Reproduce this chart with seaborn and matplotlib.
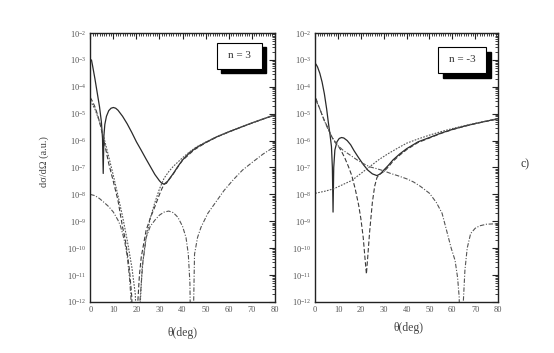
import numpy as np
import pandas as pd
import matplotlib
matplotlib.use("Agg")
import matplotlib.pyplot as plt
import matplotlib.ticker as mticker
from matplotlib.patches import Rectangle
import seaborn as sns

# ---- panel n = 3 ----
th_l_solid = [0.5, 1, 2, 3, 4, 4.8, 5.3, 5.6, 5.9, 6.3, 7, 8, 9, 10, 11, 12, 14, 16, 18, 20,
              22, 24, 26, 28, 30, 31, 32, 33, 34, 36, 38, 40, 43, 46, 50, 55, 60, 65, 70, 75, 80]
y_l_solid = [1.0e-3, 6e-4, 2e-4, 6e-5, 1.8e-5, 5e-6, 1.2e-6, 6e-8, 1.5e-6, 4e-6, 8e-6, 1.3e-5,
             1.6e-5, 1.7e-5, 1.6e-5, 1.35e-5, 8e-6, 4.2e-6, 2e-6, 9e-7, 4.5e-7, 2.2e-7, 1.1e-7,
             5.5e-8, 3.2e-8, 2.6e-8, 2.4e-8, 2.6e-8, 3.5e-8, 6e-8, 1.1e-7, 1.9e-7, 3.5e-7, 5.5e-7,
             8.5e-7, 1.4e-6, 2.1e-6, 3.1e-6, 4.5e-6, 6.4e-6, 9e-6]

th_l_dash = [0, 1, 2, 3, 4, 5, 6, 7, 8, 10, 12, 14, 15, 16, 17, 18, 18.4, 20, 20.6, 21.3, 22.1,
             24.2, 26, 28, 30, 31, 32, 34, 36, 38, 40, 45, 50, 55, 60, 65, 70, 75, 80]
y_l_dash = [4e-5, 2.8e-5, 1.8e-5, 1e-5, 5e-6, 2.2e-6, 9e-7, 3.6e-7, 1.4e-7, 3e-8, 6e-9, 6e-10,
            2.5e-10, 7e-11, 1.5e-11, 1.5e-12, 1e-14, 1e-14, 1e-12, 1e-11, 4.7e-11, 4.6e-10,
            1.3e-9, 3.5e-9, 1e-8, 1.6e-8, 2.4e-8, 3.4e-8, 5.8e-8, 1.05e-7, 1.85e-7, 4.5e-7,
            8.3e-7, 1.38e-6, 2.08e-6, 3.05e-6, 4.45e-6, 6.35e-6, 8.9e-6]

th_l_dot = [0, 2, 4, 6, 8, 10, 12, 14, 16, 18, 19.5, 20.5, 21, 21.7, 22.5, 24, 26, 28, 30, 32,
            34, 36, 38, 40, 43, 46, 50, 55, 60, 65, 70, 75, 80]
y_l_dot = [3e-5, 1.5e-5, 5e-6, 1.2e-6, 2.5e-7, 5e-8, 9e-9, 1.5e-9, 2e-10, 2e-11, 2e-12, 1e-14,
           1e-14, 1e-12, 2e-11, 2e-10, 1.3e-9, 5e-9, 1.6e-8, 4e-8, 7e-8, 1.1e-7, 1.6e-7, 2.3e-7,
           3.8e-7, 5.8e-7, 8.8e-7, 1.43e-6, 2.13e-6, 3.13e-6, 4.53e-6, 6.43e-6, 9.05e-6]

th_l_dd = [0, 2, 4, 6, 8, 10, 12, 13, 14, 15, 16, 17, 17.6, 18, 20.6, 21.5, 22.8, 24.3, 26, 28,
           30, 32, 34, 36, 38, 40, 41.5, 42.5, 43.2, 43.6, 44.4, 45.2, 46.5, 48, 51, 54, 58, 62,
           66, 70, 75, 80]
y_l_dd = [1e-8, 9e-9, 7e-9, 5e-9, 3.5e-9, 2.2e-9, 1.1e-9, 7e-10, 3.5e-10, 1.6e-10, 5e-11, 8e-12,
          1.5e-12, 1e-14, 1e-14, 1e-12, 3e-11, 2.6e-10, 6.5e-10, 1.1e-9, 1.7e-9, 2.2e-9, 2.4e-9,
          2.1e-9, 1.4e-9, 6.5e-10, 2.5e-10, 6e-11, 5e-12, 1e-14, 1e-14, 6e-11, 2.5e-10, 6e-10,
          2e-9, 4.6e-9, 1.4e-8, 3.5e-8, 8e-8, 1.5e-7, 3.2e-7, 6e-7]

# ---- panel n = -3 ----
th_r_solid = [0.3, 1, 2, 3, 4, 5, 5.7, 6.5, 7.1, 7.5, 7.8, 8.1, 8.6, 9.5, 10.5, 11.5, 12.5, 14,
              15.5, 17, 19, 21, 23, 25, 27, 28.5, 30, 32, 34, 37, 40, 45, 50, 55, 60, 65, 70, 75, 80]
y_r_solid = [7e-4, 5.5e-4, 3.2e-4, 1.5e-4, 5.5e-5, 1.5e-5, 5e-6, 1.6e-6, 6e-7, 1e-7, 2.2e-9, 1e-7,
             4.5e-7, 9e-7, 1.2e-6, 1.3e-6, 1.25e-6, 1e-6, 7e-7, 4.2e-7, 2.3e-7, 1.3e-7, 8e-8,
             5.8e-8, 5e-8, 5.8e-8, 8e-8, 1.2e-7, 1.9e-7, 3.2e-7, 5e-7, 9e-7, 1.3e-6, 1.9e-6,
             2.6e-6, 3.4e-6, 4.3e-6, 5.3e-6, 6.5e-6]

th_r_dash = [0.3, 2, 4, 5.7, 7, 8.5, 10, 11.5, 13, 14.5, 16, 17.5, 19, 20, 21, 21.8, 22.4, 23,
             23.8, 25, 26, 27, 28, 30, 32, 34, 37, 40, 45, 50, 55, 60, 65, 70, 75, 80]
y_r_dash = [3.7e-5, 1.5e-5, 5.5e-6, 2.8e-6, 1.5e-6, 9e-7, 6.5e-7, 4e-7, 2.2e-7, 1.1e-7, 5e-8,
            1.6e-8, 4e-9, 1.2e-9, 2.5e-10, 4e-11, 1.1e-11, 5e-11, 4e-10, 5e-9, 2e-8, 4.2e-8,
            5.5e-8, 7e-8, 1.05e-7, 1.7e-7, 2.9e-7, 4.6e-7, 8.5e-7, 1.25e-6, 1.85e-6, 2.55e-6,
            3.35e-6, 4.25e-6, 5.25e-6, 6.4e-6]

th_r_dot = [0, 4, 8, 12, 16, 20, 24, 28, 32, 36, 40, 45, 50, 55, 60, 65, 70, 75, 80]
y_r_dot = [1.1e-8, 1.3e-8, 1.6e-8, 2.3e-8, 3.3e-8, 6e-8, 1.1e-7, 2e-7, 3.3e-7, 5.2e-7, 8e-7,
           1.15e-6, 1.6e-6, 2.15e-6, 2.8e-6, 3.55e-6, 4.4e-6, 5.4e-6, 6.6e-6]

th_r_dd = [0.3, 2, 4, 6, 8, 10, 12, 15, 18, 21, 24, 27, 30, 33, 36, 40, 43, 46, 50, 53, 55.5,
           57.5, 59.5, 61.2, 62.3, 63, 63.4, 64.4, 64.8, 65.5, 66.5, 68, 70, 72, 75, 78, 80]
y_r_dd = [3.2e-5, 1.5e-5, 5.5e-6, 2.2e-6, 1.1e-6, 6.5e-7, 4.5e-7, 3e-7, 2e-7, 1.4e-7, 1.05e-7,
          9e-8, 7.5e-8, 6e-8, 5e-8, 3.8e-8, 2.9e-8, 2e-8, 1.1e-8, 5e-9, 2e-9, 4.5e-10, 1e-10,
          3.5e-11, 8e-12, 1.5e-12, 1e-14, 1e-14, 1e-12, 1.5e-11, 1e-10, 3.5e-10, 5.5e-10,
          6.8e-10, 7.8e-10, 8e-10, 8e-10]

x_ticks = [0, 10, 20, 30, 40, 50, 60, 70, 80]
panel_labels = ["n = 3", "n = -3"]

sns.set_style("white")
plt.rcParams['font.family'] = ['Liberation Serif', 'DejaVu Serif']
plt.rcParams['mathtext.fontset'] = 'dejavuserif'

fig = plt.figure(figsize=(5.54, 3.53), dpi=100)
ax1 = fig.add_axes([0.163, 0.1445, 0.333, 0.762])
ax2 = fig.add_axes([0.569, 0.1445, 0.330, 0.762])

styles = {
    "solid": dict(linestyle="-", linewidth=0.9, color="#2a2a2a"),
    "dash": dict(linestyle=(0, (4, 2)), linewidth=0.8, color="#3a3a3a"),
    "dot": dict(linestyle=(0, (1.5, 1.2)), linewidth=0.8, color="#555555"),
    "dd": dict(linestyle=(0, (4, 1.5, 1, 1.5)), linewidth=0.8, color="#555555"),
}

curves = [
    (ax1, th_l_solid, y_l_solid, "solid"), (ax1, th_l_dash, y_l_dash, "dash"),
    (ax1, th_l_dot, y_l_dot, "dot"), (ax1, th_l_dd, y_l_dd, "dd"),
    (ax2, th_r_solid, y_r_solid, "solid"), (ax2, th_r_dash, y_r_dash, "dash"),
    (ax2, th_r_dot, y_r_dot, "dot"), (ax2, th_r_dd, y_r_dd, "dd"),
]
for ax, th, yv, kind in curves:
    df = pd.DataFrame({"theta": th, "xs": yv})
    sns.lineplot(data=df, x="theta", y="xs", ax=ax, estimator=None, sort=False, **styles[kind])

for ax, lab in zip([ax1, ax2], panel_labels):
    ax.set_yscale("log")
    ax.set_ylim(1e-12, 1e-2)
    ax.set_xlim(0, 80)
    ax.set_xticks(x_ticks)
    ax.set_xticklabels([str(t) for t in x_ticks])
    ax.xaxis.set_minor_locator(mticker.MultipleLocator(1))
    ax.yaxis.set_major_locator(mticker.LogLocator(base=10, numticks=15))
    ax.yaxis.set_minor_locator(mticker.LogLocator(base=10, subs=np.arange(2, 10), numticks=15))
    ax.yaxis.set_minor_formatter(mticker.NullFormatter())
    ax.tick_params(which="both", direction="in", top=True, right=True, colors="#222222",
                   labelcolor="#555555", labelsize=6, pad=3)
    ax.tick_params(which="major", length=4, width=0.8)
    ax.tick_params(which="minor", length=2, width=0.6)
    for s in ax.spines.values():
        s.set_linewidth(1.0)
        s.set_color("#222222")
    ax.set_xlabel("")
    ax.set_ylabel("")

    # label box with shadow
    if ax is ax1:
        x0, y0, w, h, dx, dy = 0.686, 0.867, 0.244, 0.097, 0.024, 0.017
    else:
        x0, y0, w, h, dx, dy = 0.672, 0.852, 0.262, 0.097, 0.027, 0.019
    ax.add_patch(Rectangle((x0 + dx, y0 - dy), w, h, transform=ax.transAxes,
                           facecolor="black", edgecolor="black", zorder=5))
    ax.add_patch(Rectangle((x0, y0), w, h, transform=ax.transAxes,
                           facecolor="white", edgecolor="black", linewidth=0.8, zorder=6))
    ax.text(x0 + w / 2, y0 + h / 2, lab, transform=ax.transAxes, ha="center", va="center",
            fontsize=8, color="#333333", zorder=7)

fig.text(182 / 554, 1 - 333 / 353, "θ(deg)", ha="center", va="center", fontsize=8.5, color="#444444")
fig.text(408 / 554, 1 - 328 / 353, "θ(deg)", ha="center", va="center", fontsize=8.5, color="#444444")
fig.text(44 / 554, 1 - 162 / 353, "dσ/dΩ (a.u.)", ha="center", va="center", rotation=90,
         fontsize=7.5, color="#444444")
fig.text(525 / 554, 1 - 164 / 353, "c)", ha="center", va="center", fontsize=8.5, color="#333333")

fig.savefig("out.png", dpi=100)
